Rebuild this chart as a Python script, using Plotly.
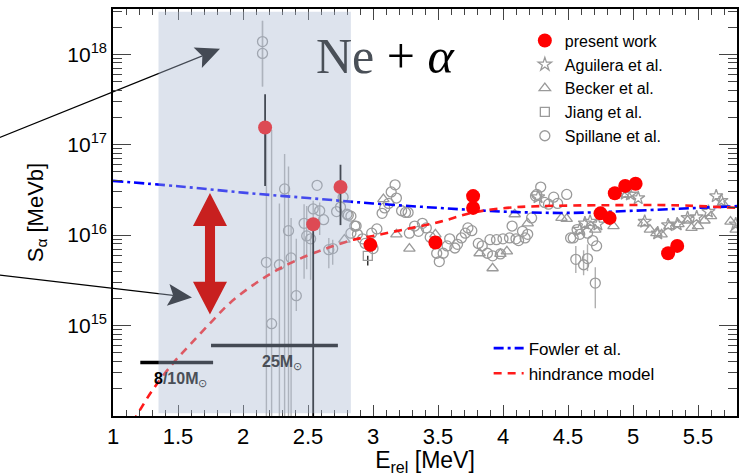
import math
import plotly.graph_objects as go

# ---------------- data ----------------
# present work
pw_E = [2.17, 2.54, 2.75, 2.98, 3.48, 3.77, 3.77, 4.75, 4.82, 4.86, 4.94, 5.02, 5.27, 5.34]
pw_S = [1.55e17, 1.32e16, 3.4e16, 7.8e15, 8.3e15, 2.7e16, 2.0e16, 1.74e16, 1.55e16,
        2.9e16, 3.5e16, 3.7e16, 6.3e15, 7.6e15]
pw_hi = [3.6e17, 1.32e16, 6.0e16, None, None, None, None, None, None, None, None, None, None, None]
pw_lo = [3.5e16, 1e13, 1.29e16, None, None, None, None, None, None, None, None, None, None, None]

# Spillane et al.
spl_E = [2.15, 2.15, 2.18, 2.22, 2.28, 2.32, 2.35, 2.37, 2.41, 2.47, 2.49, 2.52, 2.54, 2.57,
         2.59, 2.62, 2.66, 2.69, 2.72, 2.75, 2.77, 2.80, 2.83, 2.83, 2.87,
         2.81, 2.86, 2.88, 2.92, 2.94, 2.99, 3.03, 3.00, 3.07, 3.09, 3.12, 3.14, 3.17, 3.18,
         3.22, 3.25, 3.27, 3.28, 3.32, 3.35, 3.38, 3.41, 3.44, 3.49, 3.51, 3.54, 3.57, 3.59,
         3.63, 3.65, 3.68, 3.71, 3.73, 3.76, 3.81, 3.84, 3.88, 3.90, 3.92, 3.95, 3.98, 4.00,
         4.05, 4.07, 4.10, 4.12, 4.15, 4.17, 4.19, 4.22, 4.25, 4.26, 4.29, 4.32, 4.35, 4.39,
         4.42, 4.49, 4.52, 4.54, 4.57, 4.59, 4.65, 4.69, 4.72, 4.56, 4.62, 4.65, 4.71]
spl_S = [1.38e18, 1.02e18, 5.0e15, 1.05e15, 4.7e15, 3.24e16, 1.12e16, 5.6e15, 2.14e15,
         1.35e16, 9.8e15, 9.1e15, 1.95e16, 3.55e16, 1.86e16, 1.48e16, 6.9e15, 7.1e15,
         1.82e16, 2.04e16, 2.63e16, 1.7e16, 1.62e16, 1.05e16, 1.26e16,
         1.66e16, 1.26e16, 1.02e16, 9.1e15, 8.1e15, 1.05e16, 1.17e16, 7.1e15, 1.74e16,
         2.0e16, 2.24e16, 3.0e16, 3.6e16, 2.57e16, 1.86e16, 1.78e16, 1.78e16, 1.05e16,
         1.26e16, 1.1e16, 1.35e16, 1.2e16, 9.5e15, 6.3e15, 5.1e15, 6.3e15, 7.6e15, 9.1e15,
         7.2e15, 7.9e15, 9.3e15, 1.05e16, 1.2e16, 1.12e16, 8.1e15, 7.6e15, 6.3e15, 8.9e15,
         5.9e15, 8.9e15, 6.2e15, 9.1e15, 9.3e15, 1.26e16, 9.1e15, 8.7e15, 1.1e16, 9.3e15,
         1.02e16, 1.55e16, 2.7e16, 2.82e16, 3.4e16, 2.3e16, 2.2e16, 2.63e16, 2.24e16,
         2.82e16, 9.3e15, 9.3e15, 1.15e16, 1.02e16, 1.05e16, 8.7e15, 7.6e15,
         5.4e15, 4.7e15, 5.5e15, 2.95e15]
spl_hi = [2.34e18, 2.34e18, 1.7e17, 1.45e17, 2.24e16, 7.9e16, 5.75e16, 1.55e16, 9.1e15,
          2.2e16, 2.1e16, 1.0e16, 2.4e16, None, 2.3e16, None, 9.3e15, 8.9e15] \
         + [None] * 72 + [7.6e15, 6.8e15, 7.9e15, 4.4e15]
spl_lo = [4.4e17, 4.4e17, 1e13, 1e13, 1e13, 1e13, 1e13, 1e13, 1.45e15,
          3.3e15, 4.2e15, 3.2e15, 1.26e16, None, 1.0e16, None, 4.3e15, 4.7e15] \
         + [None] * 72 + [3.8e15, 3.6e15, 4.0e15, 1.55e15]

# Becker et al.
bec_E = [2.78, 3.08, 3.18, 3.28, 3.48, 3.82, 3.92, 3.98, 4.03, 4.09, 4.19, 4.45, 4.49,
         4.71, 4.85, 4.95, 5.08, 5.13, 5.18, 5.22, 5.28, 5.35, 5.42, 5.45, 5.50, 5.55,
         5.60, 5.69, 5.75, 5.79]
bec_S = [8.9e15, 2.5e16, 1.02e16, 7.1e15, 1.02e16, 6.3e15, 4.3e15, 6.2e15, 6.6e15,
         1.7e16, 1.35e16, 1.55e16, 1.51e16, 1.15e16, 1.26e16, 2.82e16, 1.35e16, 1.15e16,
         1.05e16, 1.02e16, 1.26e16, 1.32e16, 1.45e16, 1.2e16, 1.26e16, 1.45e16, 1.62e16,
         2.24e16, 1.41e16, 1.15e16]

# Jiang et al.
jia_E = [2.96]
jia_S = [5.9e15]
jia_lo = [4.6e15]

# Aguilera et al.
agu_E = [4.27, 4.59, 4.63, 4.67, 4.73, 4.94, 4.98, 5.04, 5.09, 5.19, 5.27, 5.34, 5.42,
         5.49, 5.58, 5.64, 5.68, 5.79]
agu_S = [2.63e16, 1.15e16, 1.35e16, 1.41e16, 1.32e16, 2.88e16, 2.82e16, 2.57e16, 1.41e16,
         1.05e16, 1.29e16, 1.32e16, 1.55e16, 1.58e16, 1.82e16, 2.7e16, 2.4e16, 1.32e16]

# Fowler et al. (dash-dot)
fow_E = [1.0, 1.5, 2.0, 2.5, 3.0, 3.5, 4.0, 4.5, 5.0, 5.5, 5.8]
fow_S = [3.98e16, 3.47e16, 2.95e16, 2.57e16, 2.24e16, 2.0e16, 1.82e16, 1.76e16, 1.86e16,
         2.0e16, 2.09e16]

# hindrance model (dashed)
hin_E = [1.15, 1.18, 1.3, 1.46, 1.6, 1.77, 1.9, 2.08, 2.26, 2.44, 2.65, 2.85, 3.0, 3.26,
         3.52, 3.77, 4.03, 4.28, 4.8, 5.31, 5.8]
hin_S = [8.5e13, 1.0e14, 1.9e14, 3.8e14, 6.3e14, 1.15e15, 1.78e15, 2.82e15, 4.1e15,
         5.5e15, 7.2e15, 8.9e15, 9.8e15, 1.17e16, 1.41e16, 1.78e16, 2.0e16, 2.09e16,
         2.14e16, 2.14e16, 2.0e16]

# Gamow windows
win_810_E = [1.21, 1.77]
win_810_S = [3.9e14, 3.9e14]
win_25_E = [1.754, 2.73]
win_25_S = [6.0e14, 6.0e14]
shade_E = [1.35, 2.83]

# ---------------- helpers ----------------
L, R, T, B = 113, 9, 7, 60
W, H = 746, 476
PW, PH = W - L - R, H - T - B


def px2paper(x, y):
    return (x - L) / PW, (H - B - y) / PH


def err(vals, ends, sign):
    out = []
    for v, e in zip(vals, ends):
        out.append(0 if e is None else sign * (e - v))
    return out


GRAY = "#9a9a9a"
fig = go.Figure()

# Spillane
fig.add_trace(go.Scatter(
    x=spl_E, y=spl_S, mode="markers", name="Spillane et al.", legendrank=5,
    marker=dict(symbol="circle-open", size=10, color=GRAY, line=dict(width=1.3)),
    error_y=dict(type="data", symmetric=False, array=err(spl_S, spl_hi, 1),
                 arrayminus=err(spl_S, spl_lo, -1), color="#b0b0b0", thickness=1.4, width=0)))
# Becker
fig.add_trace(go.Scatter(
    x=bec_E, y=bec_S, mode="markers", name="Becker et al.", legendrank=3,
    marker=dict(symbol="triangle-up-open", size=10, color=GRAY, line=dict(width=1.3))))
# Jiang
fig.add_trace(go.Scatter(
    x=jia_E, y=jia_S, mode="markers", name="Jiang et al.", legendrank=4,
    marker=dict(symbol="square-open", size=9, color=GRAY, line=dict(width=1.3)),
    error_y=dict(type="data", symmetric=False, array=[0],
                 arrayminus=err(jia_S, jia_lo, -1), color="black", thickness=1.2, width=0)))
# Aguilera
fig.add_trace(go.Scatter(
    x=agu_E, y=agu_S, mode="markers", name="Aguilera et al.", legendrank=2,
    marker=dict(symbol="star-open", size=10, color=GRAY, line=dict(width=1.3))))

# curves
fig.add_trace(go.Scatter(
    x=fow_E, y=fow_S, mode="lines", name="Fowler et al.", legend="legend2",
    line=dict(color="#0000ff", width=2.6, dash="10px,4px,3px,4px", shape="spline")))
fig.add_trace(go.Scatter(
    x=hin_E, y=hin_S, mode="lines", name="hindrance model", legend="legend2",
    line=dict(color="#ff1a1a", width=2.6, dash="8px,6px", shape="spline")))

# Gamow window bars
fig.add_trace(go.Scatter(x=win_810_E, y=win_810_S, mode="lines", showlegend=False,
                         line=dict(color="black", width=3.5), hoverinfo="skip"))
fig.add_trace(go.Scatter(x=win_25_E, y=win_25_S, mode="lines", showlegend=False,
                         line=dict(color="black", width=3.5), hoverinfo="skip"))

# present work
fig.add_trace(go.Scatter(
    x=pw_E, y=pw_S, mode="markers", name="present work", legendrank=1,
    marker=dict(symbol="circle", size=14, color="#ff0000"),
    error_y=dict(type="data", symmetric=False, array=err(pw_S, pw_hi, 1),
                 arrayminus=err(pw_S, pw_lo, -1), color="black", thickness=1.8, width=0)))

shapes = []


def arrow(tail, tip, length, half_w, notch):
    dx, dy = tip[0] - tail[0], tip[1] - tail[1]
    n = math.hypot(dx, dy)
    ux, uy = dx / n, dy / n
    nx, ny = -uy, ux
    bx, by = tip[0] - ux * length, tip[1] - uy * length
    p1 = (bx + nx * half_w, by + ny * half_w)
    p2 = (bx - nx * half_w, by - ny * half_w)
    nt = (tip[0] - ux * (length - notch), tip[1] - uy * (length - notch))
    pts = [tip, p1, nt, p2]
    pp = [px2paper(*p) for p in pts]
    path = "M {:.4f},{:.4f} ".format(*pp[0]) + " ".join("L {:.4f},{:.4f}".format(*q) for q in pp[1:]) + " Z"
    a = px2paper(*tail)
    b = px2paper(*nt)
    shapes.append(dict(type="line", xref="paper", yref="paper", x0=a[0], y0=a[1], x1=b[0], y1=b[1],
                       line=dict(color="black", width=1.2), layer="below"))
    shapes.append(dict(type="path", xref="paper", yref="paper", path=path,
                       fillcolor="black", line=dict(width=0), layer="below"))


arrow((-20, 144), (220, 47), 24, 11, 5)
arrow((-20, 272), (192, 297), 24, 11, 5)

# shaded band (translucent, above traces)
shapes.append(dict(type="rect", xref="x", yref="paper", x0=shade_E[0], x1=shade_E[1],
                   y0=0.007, y1=0.993, fillcolor="rgb(171,186,210)", opacity=0.40,
                   line=dict(width=0), layer="above"))

# red double arrow
cx, ytop, ybot = 210, 192, 314
hw, sw, hl = 17, 5, 33
pts = [(cx, ytop), (cx + hw, ytop + hl), (cx + sw, ytop + hl), (cx + sw, ybot - hl),
       (cx + hw, ybot - hl), (cx, ybot), (cx - hw, ybot - hl), (cx - sw, ybot - hl),
       (cx - sw, ytop + hl), (cx - hw, ytop + hl)]
pp = [px2paper(*p) for p in pts]
path = "M {:.4f},{:.4f} ".format(*pp[0]) + " ".join("L {:.4f},{:.4f}".format(*q) for q in pp[1:]) + " Z"
shapes.append(dict(type="path", xref="paper", yref="paper", path=path,
                   fillcolor="#c8201f", line=dict(width=0), layer="above"))

annotations = []
tx, ty = px2paper(386, 54)
annotations.append(dict(xref="paper", yref="paper", x=tx, y=ty, xanchor="center", yanchor="middle",
                        showarrow=False,
                        text="<span style='color:#4a5058'>Ne</span> + <i>α</i>",
                        font=dict(family="Liberation Serif, Times New Roman, serif", size=50, color="black")))
ax_, ay_ = px2paper(282, 362)
annotations.append(dict(xref="paper", yref="paper", x=ax_, y=ay_, xanchor="center", yanchor="middle",
                        showarrow=False, text="<b>25M</b><sub>⊙</sub>",
                        font=dict(size=16, color="#4a4f57")))
ax_, ay_ = px2paper(180, 379)
annotations.append(dict(xref="paper", yref="paper", x=ax_, y=ay_, xanchor="center", yanchor="middle",
                        showarrow=False,
                        text="<b><span style='color:black'>8</span>/10M</b><sub>⊙</sub>",
                        font=dict(size=16, color="#4a4f57")))

minor_y = [k * 10 ** e for e in range(14, 19) for k in range(2, 10) if k * 10 ** e < 10 ** 18.5]

fig.update_layout(
    width=W, height=H, margin=dict(l=L, r=R, t=T, b=B),
    plot_bgcolor="white", paper_bgcolor="white",
    font=dict(family="Liberation Sans, Arial, sans-serif", color="black", size=16),
    shapes=shapes, annotations=annotations,
    legend=dict(x=0.66, y=0.964, xanchor="left", yanchor="top", bgcolor="rgba(0,0,0,0)",
                font=dict(size=16), tracegroupgap=0, itemclick=False),
    legend2=dict(x=0.602, y=0.21, xanchor="left", yanchor="top", bgcolor="rgba(0,0,0,0)",
                 font=dict(size=17)),
    xaxis=dict(range=[1, 5.8], tick0=1, dtick=0.5, ticks="inside", ticklen=11, tickwidth=1.3,
               showline=True, linewidth=1.5, linecolor="black", mirror="allticks",
               showgrid=False, zeroline=False, tickfont=dict(size=22),
               minor=dict(dtick=0.1, ticks="inside", ticklen=6, tickwidth=1.1, showgrid=False),
               title=dict(text="E<sub>rel</sub> [MeV]", font=dict(size=23), standoff=3)),
    yaxis=dict(type="log", range=[14, 18.5], tickvals=[1e15, 1e16, 1e17, 1e18],
               ticktext=["10<sup>15</sup>", "10<sup>16</sup>", "10<sup>17</sup>", "10<sup>18</sup>"],
               ticks="inside", ticklen=18, tickwidth=1.3, showline=True, linewidth=1.5,
               linecolor="black", mirror="allticks", showgrid=False, zeroline=False,
               tickfont=dict(size=21),
               minor=dict(tickvals=minor_y, ticks="inside", ticklen=9, tickwidth=1.1, showgrid=False),
               title=dict(text="S<sub>α</sub> [MeVb]", font=dict(size=22), standoff=18)),
)

fig.write_html("out.html", config={"displayModeBar": False},
               post_script="document.body.style.margin='0px';")
